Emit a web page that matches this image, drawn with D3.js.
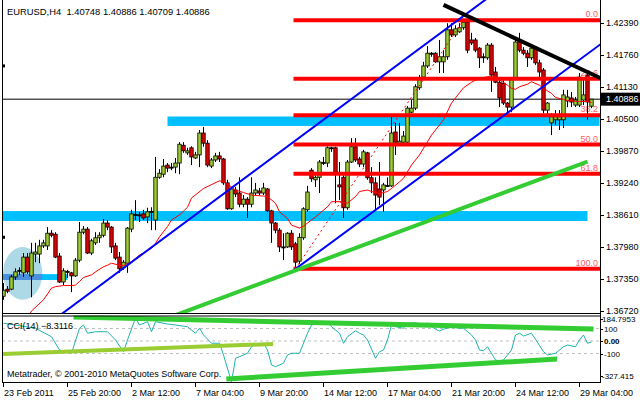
<!DOCTYPE html>
<html><head><meta charset="utf-8">
<script src="https://cdn.jsdelivr.net/npm/d3@7"></script>
<style>html,body{margin:0;padding:0;background:#fff;}svg{display:block;font-family:"Liberation Sans",Arial,sans-serif;}</style>
</head><body><svg id="c" width="640" height="400"></svg>
<script>
const symbol = "EURUSD,H4";
const opens = [1.3701,1.3715,1.3715,1.3739,1.3751,1.3747,1.3778,1.3741,1.3784,1.3784,
1.3800,1.3800,1.3825,1.3823,1.3780,1.3729,1.3749,1.3747,1.3741,1.3772,
1.3827,1.3833,1.3786,1.3806,1.3816,1.3821,1.3845,1.3837,1.3800,1.3778,
1.3758,1.3766,1.3833,1.3861,1.3861,1.3863,1.3857,1.3867,1.3851,1.3935,
1.3941,1.3959,1.3955,1.3955,1.3963,1.3998,1.3983,1.3993,1.3973,1.3979,
1.4022,1.4002,1.3957,1.3969,1.3977,1.3971,1.3924,1.3873,1.3910,1.3904,
1.3882,1.3892,1.3882,1.3904,1.3908,1.3904,1.3912,1.3869,1.3845,1.3831,
1.3798,1.3798,1.3825,1.3804,1.3770,1.3816,1.3871,1.3949,1.3930,1.3935,
1.3963,1.3963,1.3993,1.3993,1.3920,1.3935,1.3875,1.3965,1.3995,1.3971,
1.3961,1.3983,1.3934,1.3924,1.3912,1.3910,1.3918,1.3918,1.4024,1.4002,
1.4004,1.4004,1.4063,1.4071,1.4111,1.4132,1.4154,1.4179,1.4179,1.4162,
1.4162,1.4172,1.4225,1.4215,1.4221,1.4229,1.4240,1.4205,1.4205,1.4189,
1.4172,1.4170,1.4195,1.4142,1.4122,1.4120,1.4081,1.4073,1.4130,1.4201,
1.4185,1.4179,1.4170,1.4189,1.4160,1.4146,1.4067,1.4042,1.4048,1.4048,
1.4048,1.4085,1.4091,1.4077,1.4077,1.4087,1.4136,1.40748];
const highs = [1.3727,1.3721,1.3743,1.3756,1.3758,1.3786,1.3786,1.3806,1.3806,1.3812,
1.3812,1.3837,1.3831,1.3827,1.3786,1.3756,1.3753,1.3749,1.3776,1.3847,
1.3839,1.3837,1.3814,1.3827,1.3827,1.3853,1.3851,1.3839,1.3806,1.3788,
1.3772,1.3837,1.3871,1.3890,1.3867,1.3871,1.3875,1.3876,1.3975,1.3951,
1.3971,1.3963,1.3963,1.3973,1.4004,1.4004,1.3993,1.3996,1.3985,1.4028,
1.4034,1.4008,1.3973,1.3983,1.3985,1.3973,1.3930,1.3916,1.3916,1.3935,
1.3900,1.3896,1.3935,1.3924,1.3914,1.3924,1.3914,1.3871,1.3847,1.3835,
1.3825,1.3827,1.3831,1.3808,1.3825,1.3876,1.3918,1.3953,1.3939,1.3969,
1.3975,1.3996,1.3995,1.3995,1.3965,1.3939,1.3969,1.4012,1.4012,1.3975,
1.3989,1.3985,1.3955,1.3935,1.3965,1.3924,1.3935,1.4054,1.4042,1.4042,
1.4026,1.4075,1.4087,1.4118,1.4136,1.4162,1.4193,1.4181,1.4181,1.4205,
1.4185,1.4238,1.4238,1.4234,1.4238,1.4244,1.4242,1.4219,1.4209,1.4191,
1.4179,1.4199,1.4199,1.4152,1.4126,1.4126,1.4083,1.4132,1.4205,1.4219,
1.4191,1.4185,1.4195,1.4191,1.4166,1.4150,1.4083,1.4061,1.4067,1.4067,
1.4107,1.4107,1.4103,1.4093,1.4140,1.4132,1.4140,1.40886];
const lows = [1.3694,1.3707,1.3713,1.3733,1.3743,1.3739,1.3745,1.3699,1.3768,1.3766,
1.3796,1.3792,1.3817,1.3776,1.3727,1.3723,1.3737,1.3709,1.3739,1.3768,
1.3823,1.3784,1.3782,1.3802,1.3806,1.3817,1.3831,1.3786,1.3772,1.3747,
1.3753,1.3747,1.3827,1.3851,1.3847,1.3851,1.3845,1.3831,1.3831,1.3932,
1.3935,1.3945,1.3949,1.3943,1.3941,1.3983,1.3979,1.3959,1.3971,1.3955,
1.3995,1.3955,1.3953,1.3965,1.3965,1.3920,1.3871,1.3871,1.3896,1.3876,
1.3876,1.3855,1.3876,1.3900,1.3900,1.3900,1.3867,1.3806,1.3825,1.3788,
1.3772,1.3796,1.3792,1.3755,1.3764,1.3812,1.3867,1.3926,1.3916,1.3904,
1.3959,1.3955,1.3985,1.3884,1.3890,1.3855,1.3871,1.3963,1.3965,1.3955,
1.3955,1.3930,1.3904,1.3871,1.3880,1.3867,1.3916,1.3916,1.3979,1.4000,
1.4002,1.3998,1.4061,1.4067,1.4107,1.4130,1.4150,1.4172,1.4160,1.4140,
1.4140,1.4166,1.4211,1.4211,1.4219,1.4225,1.4179,1.4195,1.4181,1.4150,
1.4160,1.4166,1.4103,1.4120,1.4073,1.4077,1.4063,1.4063,1.4126,1.4181,
1.4175,1.4152,1.4166,1.4156,1.4132,1.4061,1.4054,1.4018,1.4038,1.4028,
1.4032,1.4073,1.4073,1.4073,1.4073,1.4077,1.4048,1.40709];
const closes = [1.3713,1.3711,1.3739,1.3749,1.3752,1.3778,1.3749,1.3786,1.3788,1.3800,
1.3806,1.3825,1.3821,1.3778,1.3729,1.3751,1.3750,1.3741,1.3772,1.3827,
1.3833,1.3786,1.3810,1.3816,1.3821,1.3845,1.3837,1.3798,1.3776,1.3755,
1.3768,1.3835,1.3863,1.3862,1.3860,1.3855,1.3867,1.3868,1.3935,1.3943,
1.3957,1.3953,1.3954,1.3963,1.4000,1.3987,1.3987,1.3975,1.3979,1.4022,
1.4002,1.3959,1.3969,1.3977,1.3971,1.3924,1.3873,1.3912,1.3902,1.3882,
1.3892,1.3882,1.3904,1.3910,1.3904,1.3914,1.3869,1.3845,1.3831,1.3798,
1.3797,1.3825,1.3798,1.3768,1.3817,1.3873,1.3906,1.3932,1.3935,1.3965,
1.3964,1.3993,1.3992,1.3945,1.3916,1.3875,1.3965,1.3995,1.3969,1.3961,
1.3985,1.3934,1.3924,1.3900,1.3896,1.3920,1.3919,1.4022,1.4004,1.4006,
1.4016,1.4071,1.4071,1.4113,1.4130,1.4154,1.4179,1.4178,1.4162,1.4172,
1.4172,1.4225,1.4215,1.4227,1.4229,1.4240,1.4185,1.4199,1.4185,1.4170,
1.4170,1.4195,1.4136,1.4122,1.4091,1.4081,1.4073,1.4130,1.4201,1.4185,
1.4179,1.4170,1.4189,1.4160,1.4142,1.4067,1.4081,1.4054,1.4054,1.4054,
1.4097,1.4093,1.4083,1.4087,1.4132,1.4097,1.4083,1.40886];

// moving average
const maIdx = [6,7,10,12,13,15,17,18,19,20,22,23,25,26,27,29,30,32,34,37,38,39,41,42,44,46,47,50,54,55,57,58,60,62,65,66,68,69,71,72,74,75,78,81,82,84,86,88,89,91,92,94,96,97,99,100,102,104,107,110,112,115,117,119,122,123,126,127,128,129,131,132,134,135,137,138,140,141,144,146,147];
const maVal = [1.3658,1.3672,1.3694,1.3717,1.3720,1.3722,1.3722,1.3723,1.3730,1.3738,1.3743,1.3749,1.3759,1.3762,1.3766,1.3762,1.3761,1.3769,1.3782,1.3795,1.3805,1.3818,1.3838,1.3851,1.3861,1.3876,1.3894,1.3913,1.3928,1.3926,1.3916,1.3910,1.3905,1.3900,1.3898,1.3897,1.3884,1.3867,1.3854,1.3841,1.3835,1.3839,1.3857,1.3877,1.3887,1.3887,1.3884,1.3897,1.3907,1.3910,1.3907,1.3903,1.3907,1.3913,1.3926,1.3933,1.3959,1.3979,1.4018,1.4048,1.4081,1.4111,1.4122,1.4130,1.4134,1.4132,1.4116,1.4110,1.4108,1.4113,1.4118,1.4123,1.4116,1.4110,1.4100,1.4092,1.4088,1.4086,1.4084,1.4084,1.4082];

// CCI(14)
const cciIdx = [0,8,12,14,17,19,20,21,23,26,28,30,31,33,34,36,37,38,41,43,46,48,49,50,52,54,55,57,58,59,61,62,63,65,66,67,68,70,71,72,74,76,77,79,81,82,84,85,86,88,89,90,91,93,94,95,96,97,98,100,101,103,104,106,108,109,110,112,114,115,117,118,119,120,121,123,124,125,127,128,129,130,132,133,135,136,138,139,140,141,143,144,145,146,147];
const cciVal = [142,102,34,-72,-98,102,128,62,74,74,8,-86,8,184.7953,128,154,74,154,136,128,114,62,102,48,-18,-18,-112,-327.415,-138,-126,-98,-46,-32,-18,-72,-192,-206,-178,-112,-98,-98,62,128,142,146,114,62,-18,34,82,62,48,8,-138,-86,-72,8,128,114,102,142,146,136,142,94,80,94,114,102,102,48,8,-72,-78,-46,-152,-160,-152,-72,48,62,40,62,14,-86,-112,-98,-72,-46,-32,-46,8,48,-18,-8.3116];
const cciMax = 184.7953, cciMin = -327.415;
const cciLevels = [100, 0, -100];
const cciAxisVals = [184.7953, 100, 0, -100, -327.415];
const cciAxisText = ["184.7953", "100", "0.00", "-100", "-327.415"];

// axes
const priceTicks = [1.4239,1.4176,1.4113,1.4050,1.3987,1.3924,1.3861,1.3798,1.3735,1.3672];
const timeTickIdx = [0,16,32,48,64,80,96,112,128,144];
const timeLabels = ["23 Feb 2011","25 Feb 20:00","2 Mar 12:00","7 Mar 04:00","9 Mar 20:00","14 Mar 12:00","17 Mar 04:00","21 Mar 20:00","24 Mar 12:00","29 Mar 04:00"];

// Fibonacci retracement
const fibLevels = [0, 23.6, 38.2, 50.0, 61.8, 100.0];
const fibLabels = ["0.0","23.6","38.2","50.0","61.8","100.0"];
const fibHigh = 1.4244, fibHighIdx = 115, fibLow = 1.3755, fibLowIdx = 73;

// objects: rectangles (start idx, end idx, low, high), ellipse, trend lines [idx, value]
const bandStart = [41, -2, -2];
const bandEnd = [149, 146, 16];
const bandLow = [1.4036, 1.3849, 1.3733];
const bandHigh = [1.40545, 1.38686, 1.37445];
const ellipseBox = [-0.1, 9.7, 1.3694, 1.3798];
const blueUpper = [[20, 1.3698], [110, 1.4223]];
const blueLower = [[72, 1.3749], [140, 1.4143]];
const blackTrend = [[110, 1.4274], [146, 1.4142]];
const greenTrend = [[40, 1.3655], [146, 1.3966]];
const cciTopLine = [[17.5, 192], [147.5, 96]];
const cciMidLine = [[-0.1, -104], [67.4, -24]];
const cciBotLine = [[55.7, -304], [138.4, -144]];
const markerPrices = [1.4154, 1.3817];

const svg = d3.select("#c");
const x = d3.scaleLinear().domain([0, 147]).range([3.5, 591.5]);
const y = d3.scaleLinear().domain([1.3672, 1.4239]).range([311, 22.7]);
const yc = d3.scaleLinear().domain([cciMin, cciMax]).range([381.9, 317.9]);
const L = 2, R = 600, MB = 313, CT = 315.5, CB = 382;
const fmt5 = d3.format(".5f");
const N = closes.length;
const last = N - 1;

const defs = svg.append("defs");
defs.append("clipPath").attr("id","cm").append("rect").attr("x",L).attr("y",0).attr("width",R-L).attr("height",MB);
defs.append("clipPath").attr("id","cc").append("rect").attr("x",L).attr("y",CT).attr("width",R-L).attr("height",CB-CT);
const ecx = (x(ellipseBox[0])+x(ellipseBox[1]))/2, erx = (x(ellipseBox[1])-x(ellipseBox[0]))/2;
const ecy = (y(ellipseBox[2])+y(ellipseBox[3]))/2, ery = (y(ellipseBox[2])-y(ellipseBox[3]))/2;
defs.append("clipPath").attr("id","ce").append("ellipse").attr("cx",ecx).attr("cy",ecy).attr("rx",erx).attr("ry",ery);

const gm = svg.append("g").attr("clip-path","url(#cm)");
gm.append("ellipse").attr("cx",ecx).attr("cy",ecy).attr("rx",erx).attr("ry",ery).attr("fill","#add8e6");
const bandIdx = d3.range(bandStart.length);
gm.selectAll("rect.band").data(bandIdx).join("rect").attr("class","band")
  .attr("x", d => x(bandStart[d])).attr("width", d => x(bandEnd[d]) - x(bandStart[d]))
  .attr("y", d => y(bandHigh[d])).attr("height", d => y(bandLow[d]) - y(bandHigh[d]))
  .attr("fill","#00bfff");
gm.append("g").attr("clip-path","url(#ce)").selectAll("rect").data(bandIdx).join("rect")
  .attr("x", d => x(bandStart[d])).attr("width", d => x(bandEnd[d]) - x(bandStart[d]))
  .attr("y", d => y(bandHigh[d])).attr("height", d => y(bandLow[d]) - y(bandHigh[d]))
  .attr("fill","#4a8fdc");

gm.append("line").attr("x1",L).attr("x2",R).attr("y1",y(closes[last])).attr("y2",y(closes[last]))
  .attr("stroke","#000").attr("stroke-width",1);

const fibPrice = l => fibHigh - (fibHigh - fibLow) * l / 100;
gm.selectAll("text.fl").data(fibLevels).join("text").attr("class","fl")
  .attr("x", 598).attr("y", d => y(fibPrice(d)) - 2.8).attr("text-anchor","end")
  .attr("font-size", 9).attr("fill","#ff6060").text((d,i) => fibLabels[i]);

const idx = d3.range(N);
const cg = gm.append("g");
cg.selectAll("line").data(idx).join("line")
  .attr("x1", i => x(i)).attr("x2", i => x(i))
  .attr("y1", i => y(highs[i])).attr("y2", i => y(lows[i])).attr("stroke","#000").attr("stroke-width",1);
cg.selectAll("rect").data(idx).join("rect")
  .attr("x", i => x(i) - 1.7).attr("width", 3.4)
  .attr("y", i => y(Math.max(opens[i], closes[i])))
  .attr("height", i => Math.max(1, Math.abs(y(opens[i]) - y(closes[i]))))
  .attr("fill", i => Math.abs(y(opens[i]) - y(closes[i])) < 1.2 ? "#000" : (closes[i] >= opens[i] ? "#9acd32" : "#e00000"))
  .attr("stroke","#000").attr("stroke-width",0.8);

gm.append("path").datum(d3.range(maIdx.length))
  .attr("d", d3.line().x(k => x(maIdx[k])).y(k => y(maVal[k])))
  .attr("fill","none").attr("stroke","#ff0000").attr("stroke-width",1);

gm.selectAll("line.fib").data(fibLevels).join("line").attr("class","fib")
  .attr("x1", x(fibLowIdx) - 2).attr("x2", R)
  .attr("y1", d => y(fibPrice(d))).attr("y2", d => y(fibPrice(d)))
  .attr("stroke","#ff0000").attr("stroke-width",4);
gm.append("line").attr("x1", x(fibLowIdx)).attr("y1", y(fibLow)).attr("x2", x(fibHighIdx)).attr("y2", y(fibHigh))
  .attr("stroke","#ff0000").attr("stroke-width",1).attr("stroke-dasharray","2,3");

const at = (ln, i) => ln[0][1] + (ln[1][1] - ln[0][1]) * (i - ln[0][0]) / (ln[1][0] - ln[0][0]);
function seg(g, ln, i0, i1, sc, color, w) {
  g.append("line").attr("x1", x(i0)).attr("y1", sc(at(ln, i0))).attr("x2", x(i1)).attr("y2", sc(at(ln, i1)))
    .attr("stroke", color).attr("stroke-width", w).attr("stroke-linecap","butt");
}
seg(gm, blueUpper, -10, 160, y, "#0000ff", 2);
seg(gm, blueLower, blueLower[0][0], 160, y, "#0000ff", 2);
seg(gm, greenTrend, greenTrend[0][0], greenTrend[1][0], y, "#33cc33", 4);
seg(gm, blackTrend, blackTrend[0][0], 160, y, "#000000", 4);

gm.selectAll("rect.mk").data(markerPrices).join("rect").attr("class","mk")
  .attr("x", 2).attr("y", d => y(d) - 1.5).attr("width", 3).attr("height", 3).attr("fill","#000");

svg.append("text").attr("x",7).attr("y",14.5).attr("font-size",9.4).attr("fill","#000").style("white-space","pre")
  .text(symbol + "  " + [opens[last], highs[last], lows[last], closes[last]].map(fmt5).join(" "));

const gc = svg.append("g").attr("clip-path","url(#cc)");
gc.selectAll("line.lv").data(cciLevels).join("line").attr("class","lv")
  .attr("x1", L).attr("x2", R).attr("y1", d => yc(d)).attr("y2", d => yc(d))
  .attr("stroke","#c0c0c0").attr("stroke-width",1).attr("stroke-dasharray","3,3");
gc.append("path").datum(d3.range(cciIdx.length))
  .attr("d", d3.line().x(k => x(cciIdx[k])).y(k => yc(cciVal[k])))
  .attr("fill","none").attr("stroke","#20b2aa").attr("stroke-width",1);
gc.append("text").attr("x",7).attr("y",328.5).attr("font-size",9).attr("fill","#000")
  .text("CCI(14) " + d3.format(".4f")(cciVal[cciVal.length-1]));
seg(gc, cciTopLine, cciTopLine[0][0], cciTopLine[1][0], yc, "#33cc33", 5);
seg(gc, cciMidLine, cciMidLine[0][0], cciMidLine[1][0], yc, "#9acd32", 4);
seg(gc, cciBotLine, cciBotLine[0][0], cciBotLine[1][0], yc, "#33cc33", 5);
gc.append("text").attr("x",7).attr("y",377).attr("font-size",9).attr("fill","#000")
  .text("Metatrader, \u00a9 2001-2010 MetaQuotes Software Corp.");

const fr = svg.append("g").attr("stroke","#000").attr("stroke-width",1).attr("fill","none");
fr.append("line").attr("x1",2.5).attr("x2",2.5).attr("y1",0).attr("y2",CB);
fr.append("line").attr("x1",600.5).attr("x2",600.5).attr("y1",0).attr("y2",CB);
fr.append("line").attr("x1",2).attr("x2",601).attr("y1",MB+0.5).attr("y2",MB+0.5);
fr.append("line").attr("x1",2).attr("x2",601).attr("y1",CT+0.5).attr("y2",CT+0.5);
fr.append("line").attr("x1",2).attr("x2",601).attr("y1",CB+0.5).attr("y2",CB+0.5);

const ax = svg.append("g");
ax.selectAll("line").data(priceTicks).join("line")
  .attr("x1",600).attr("x2",604).attr("y1", d => Math.round(y(d))+0.5).attr("y2", d => Math.round(y(d))+0.5)
  .attr("stroke","#000");
ax.selectAll("text").data(priceTicks).join("text")
  .attr("x",606).attr("y", d => y(d) + 3.3).attr("font-size",9).attr("fill","#000").text(fmt5);
const cp = y(closes[last]);
svg.append("rect").attr("x",601).attr("y",cp-6.5).attr("width",39).attr("height",13).attr("fill","#000");
svg.append("text").attr("x",606).attr("y",cp+3.3).attr("font-size",9).attr("fill","#fff").text(fmt5(closes[last]));

// CCI axis
const cax = svg.append("g");
const cciLabelY = v => v === cciMax ? yc(v) + 1.4 : (v === cciMin ? yc(v) - 5.5 : yc(v) + 0.5);
const isExt = v => v === cciMax || v === cciMin;
cax.selectAll("line").data(cciAxisVals).join("line")
  .attr("x1",600).attr("x2",603).attr("y1", d => Math.round(cciLabelY(d))+0.5).attr("y2", d => Math.round(cciLabelY(d))+0.5)
  .attr("stroke","#000");
cax.selectAll("text").data(cciAxisVals).join("text")
  .attr("x", d => isExt(d) ? 602 : 604).attr("y", d => cciLabelY(d) + 2.9)
  .attr("font-size", 8).attr("fill","#000")
  .attr("font-weight", d => d === 0 ? "bold" : "normal")
  .text((d,i) => cciAxisText[i]);

const tx = svg.append("g");
tx.selectAll("line").data(timeTickIdx).join("line")
  .attr("x1", d => Math.floor(x(d))+0.5).attr("x2", d => Math.floor(x(d))+0.5).attr("y1",CB).attr("y2",CB+5)
  .attr("stroke","#000");
tx.selectAll("text").data(timeTickIdx).join("text")
  .attr("x", d => x(d) + 0.5).attr("y",395.5).attr("font-size",9).attr("fill","#000")
  .text((d,i) => timeLabels[i]);
</script>
</body></html>
